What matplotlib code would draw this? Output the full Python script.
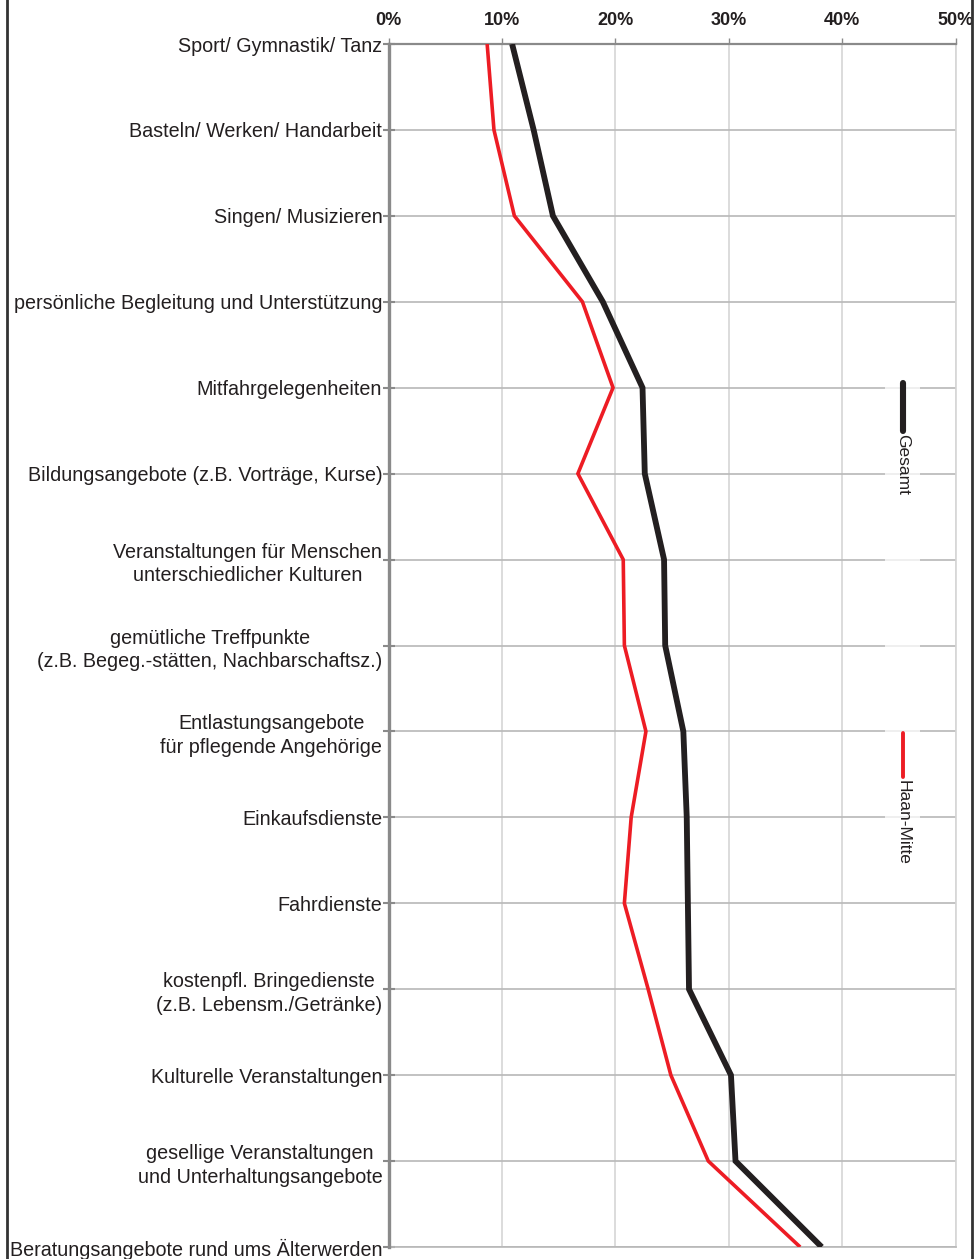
import matplotlib
matplotlib.use("Agg")
import matplotlib.pyplot as plt
from matplotlib.lines import Line2D
from matplotlib.patches import Rectangle
from matplotlib.ticker import FuncFormatter

plt.rcParams['font.family'] = ['Liberation Sans', 'DejaVu Sans']

categories = [
    "Sport/ Gymnastik/ Tanz",
    "Basteln/ Werken/ Handarbeit",
    "Singen/ Musizieren",
    "persönliche Begleitung und Unterstützung",
    "Mitfahrgelegenheiten",
    "Bildungsangebote (z.B. Vorträge, Kurse)",
    "Veranstaltungen für Menschen\nunterschiedlicher Kulturen",
    "gemütliche Treffpunkte\n(z.B. Begeg.-stätten, Nachbarschaftsz.)",
    "Entlastungsangebote\nfür pflegende Angehörige",
    "Einkaufsdienste",
    "Fahrdienste",
    "kostenpfl. Bringedienste\n(z.B. Lebensm./Getränke)",
    "Kulturelle Veranstaltungen",
    "gesellige Veranstaltungen\nund Unterhaltungsangebote",
    "Beratungsangebote rund ums Älterwerden",
]

gesamt = [10.9, 12.8, 14.5, 18.9, 22.4, 22.6, 24.3, 24.4, 26.0, 26.3, 26.4, 26.5, 30.2, 30.6, 38.2]
haan_mitte = [8.7, 9.3, 11.1, 17.1, 19.8, 16.7, 20.7, 20.8, 22.7, 21.4, 20.8, 22.9, 24.9, 28.2, 36.3]

x_ticks = [0, 10, 20, 30, 40, 50]

W, H = 975, 1259
fig = plt.figure(figsize=(W / 100, H / 100), dpi=100)
ax = fig.add_axes([388.5 / W, 1 - 1247 / H, (955.5 - 388.5) / W, (1247 - 44) / H])

pos = list(range(len(categories)))
ax.set_xlim(0, 50)
ax.set_ylim(len(categories) - 1, 0)

# grid
for x in x_ticks:
    ax.axvline(x, color='#d6d6d6', lw=1.2, zorder=1)
for y in pos:
    ax.axhline(y, color='#b8b8b8', lw=1.2, zorder=1.5)

# legend background
ax.add_patch(Rectangle((0.876, 0.31), 0.062, 0.42, transform=ax.transAxes,
                       facecolor='white', alpha=0.75, edgecolor='none', zorder=2))

ax.plot(gesamt, pos, color='#231f20', lw=4.2, solid_joinstyle='miter', solid_capstyle='butt', zorder=4)
ax.plot(haan_mitte, pos, color='#ed1c24', lw=2.6, solid_joinstyle='miter', solid_capstyle='butt', zorder=3)

# legend
ax.plot([0.907, 0.907], [0.718, 0.678], transform=ax.transAxes, color='#231f20',
        lw=4.4, solid_capstyle='round', zorder=5)
ax.text(0.907, 0.676, "Gesamt", transform=ax.transAxes, rotation=270,
        ha='center', va='top', fontsize=12.5, color='#231f20', zorder=5)
ax.plot([0.907, 0.907], [0.427, 0.391], transform=ax.transAxes, color='#ed1c24',
        lw=2.8, solid_capstyle='round', zorder=5)
ax.text(0.907, 0.388, "Haan-Mitte", transform=ax.transAxes, rotation=270,
        ha='center', va='top', fontsize=12.5, color='#231f20', zorder=5)

# axes styling
ax.xaxis.tick_top()
ax.set_xticks(x_ticks)
ax.xaxis.set_major_formatter(FuncFormatter(lambda v, p: f"{v:.0f}%"))
ax.tick_params(axis='x', direction='out', length=4, width=1, color='#8a8a8a',
               labelsize=13, pad=7)
for lab in ax.get_xticklabels():
    lab.set_fontweight('bold')
    lab.set_color('#231f20')

ax.set_yticks(pos)
ax.set_yticklabels(categories, fontsize=14.2, color='#231f20',
                   multialignment='center', linespacing=1.3)
ax.tick_params(axis='y', direction='inout', length=8, width=1.5, color='#8a8a8a', pad=0.5)

ax.spines['left'].set_color('#8a8a8a')
ax.spines['left'].set_linewidth(2.4)
ax.spines['left'].set_zorder(6)
ax.spines['top'].set_color('#8a8a8a')
ax.spines['top'].set_linewidth(1.6)
ax.spines['right'].set_color('#d6d6d6')
ax.spines['right'].set_linewidth(1.2)
ax.spines['bottom'].set_color('#b8b8b8')
ax.spines['bottom'].set_linewidth(1.2)

# outer border (left and right only)
fig.add_artist(Line2D([7 / W, 7 / W], [0, 1], color='#333333', lw=2))
fig.add_artist(Line2D([971.5 / W, 971.5 / W], [0, 1], color='#333333', lw=2))

fig.savefig("out.png", dpi=100)
